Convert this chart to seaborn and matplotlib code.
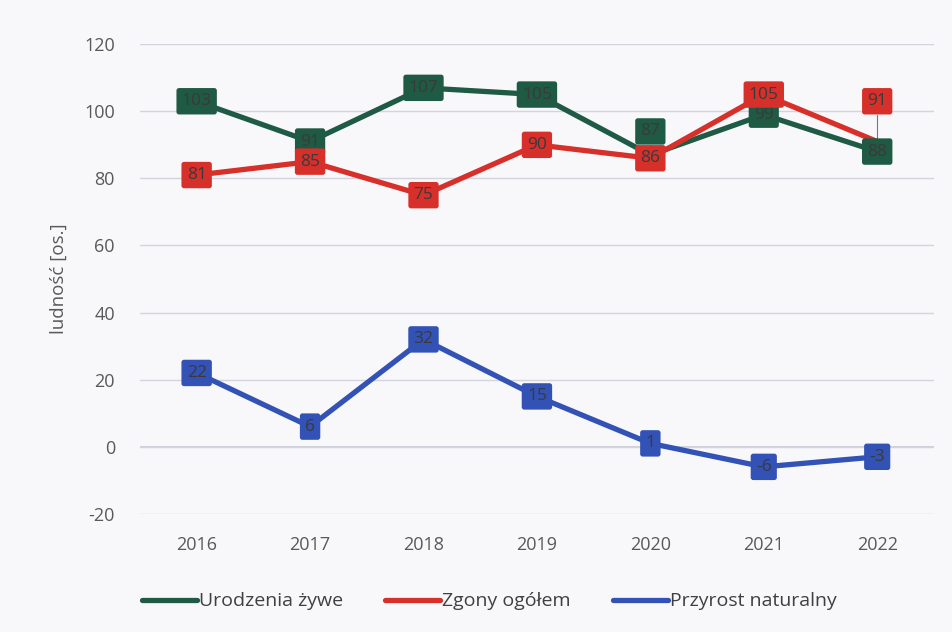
import pandas as pd
import matplotlib.pyplot as plt
import seaborn as sns

# Data
years = ["2016", "2017", "2018", "2019", "2020", "2021", "2022"]
urodzenia = [103, 91, 107, 105, 87, 99, 88]
zgony = [81, 85, 75, 90, 86, 105, 91]
przyrost = [22, 6, 32, 15, 1, -6, -3]

series_names = ["Urodzenia żywe", "Zgony ogółem", "Przyrost naturalny"]
colors = ["#1f5a45", "#d7302b", "#3352b5"]

df = pd.DataFrame({
    "rok": years * 3,
    "wartosc": urodzenia + zgony + przyrost,
    "seria": [series_names[0]] * 7 + [series_names[1]] * 7 + [series_names[2]] * 7,
})

sns.set_style("white")
plt.rcParams["font.family"] = ["Open Sans", "DejaVu Sans"]
plt.rcParams["axes.unicode_minus"] = False

fig = plt.figure(figsize=(9.52, 6.32), dpi=100, facecolor="#f8f8fa")
ax = fig.add_axes([0.147, 0.187, 0.834, 0.743])
ax.set_facecolor("#f8f8fa")

sns.lineplot(data=df, x="rok", y="wartosc", hue="seria", palette=colors,
             hue_order=series_names, linewidth=3.8, sort=False, ax=ax)

# data labels in coloured boxes
label_offsets = {(0, 4): 7, (1, 6): 12}
for i, vals in enumerate([urodzenia, zgony, przyrost]):
    for j, v in enumerate(vals):
        dy = label_offsets.get((i, j), 0)
        if dy:
            ax.plot([j, j], [v - 1, v + dy - 4], color="#777777", lw=0.8, zorder=3)
        ax.text(j, v + dy, str(v), ha="center", va="center", fontsize=12.5,
                color="#3a3a3a", zorder=5,
                bbox=dict(boxstyle="round,pad=0.3,rounding_size=0.15",
                          fc=colors[i], ec="none"))

ax.set_ylim(-20, 120)
ax.set_xlim(-0.5, 6.5)
ax.set_yticks(range(-20, 121, 20))
ax.yaxis.grid(True, color="#d4d4e0", linewidth=1)
ax.axhline(0, color="#c8c8d4", linewidth=1.2, zorder=0)
for s in ax.spines.values():
    s.set_visible(False)
ax.tick_params(axis="both", length=0, labelsize=13, labelcolor="#595959")
ax.tick_params(axis="x", pad=16)
ax.tick_params(axis="y", pad=18)
ax.set_xlabel("")
ax.set_ylabel("ludność [os.]", fontsize=13.5, color="#595959", labelpad=12)

handles, labels = ax.get_legend_handles_labels()
ax.legend(handles, labels, loc="upper center", bbox_to_anchor=(0.44, -0.13),
          ncol=3, frameon=False, fontsize=14, handlelength=2.8,
          handletextpad=0.1, columnspacing=2.2, labelcolor="#404040")

fig.savefig("out.png", dpi=100, facecolor=fig.get_facecolor())
